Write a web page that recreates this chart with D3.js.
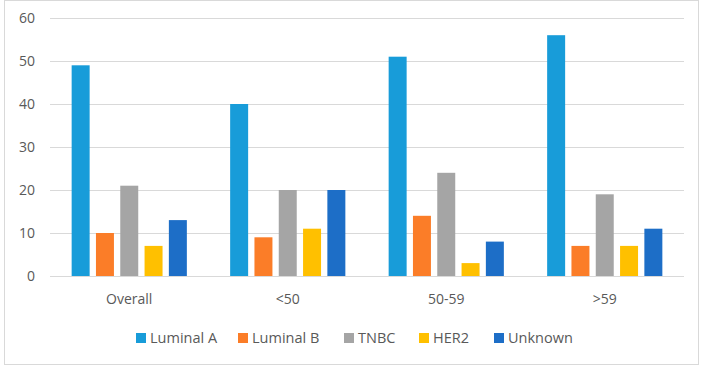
<!DOCTYPE html>
<html lang="en">
<head>
  <meta charset="UTF-8">
  <title>Subtypes by age</title>
  <style>
    body { margin: 0; background: #fff; }
    text { font-family: "Open Sans", "DejaVu Sans", sans-serif; fill: #595959; }
  </style>
</head>
<body>
  <script src="https://d3js.org/d3.v7.min.js"></script>
  <script>

    const categories = ['Overall', '<50', '50-59', '>59']
    const seriesNames = ['Luminal A', 'Luminal B', 'TNBC', 'HER2', 'Unknown']
    const luminalA = [49, 40, 51, 56]
    const luminalB = [10, 9, 14, 7]
    const tnbc = [21, 20, 24, 19]
    const her2 = [7, 11, 3, 7]
    const unknown = [13, 20, 8, 11]
    const yTicks = [0, 10, 20, 30, 40, 50, 60]
    const colors = ['#189cd9', '#fb7d28', '#a5a5a5', '#ffc000', '#1d6ec7']

    const seriesValues = [luminalA, luminalB, tnbc, her2, unknown]
    const rows = categories.map((c, i) => ({
      cat: c,
      vals: seriesNames.map((s, j) => ({ key: s, value: seriesValues[j][i], idx: j }))
    }))

    const width = 708, height = 370
    const plotLeft = 50, plotRight = 684, plotTop = 18, plotBottom = 276
    const groupW = 115.2

    const svg = d3.select('body')
      .append('svg')
      .attr('width', width)
      .attr('height', height)

    // chart border
    svg.append('rect')
      .attr('x', 4.5).attr('y', 0.5)
      .attr('width', 694).attr('height', 364)
      .attr('fill', '#fff')
      .attr('stroke', '#d9d9d9')

    const x0 = d3.scaleBand()
      .domain(categories)
      .range([plotLeft, plotRight])

    const x1 = d3.scaleBand()
      .domain(seriesNames)
      .range([0, groupW])
      .paddingInner(0.26)

    const y = d3.scaleLinear()
      .domain([0, 60])
      .range([plotBottom, plotTop])

    // gridlines
    svg.append('g')
      .selectAll('line')
      .data(yTicks)
      .join('line')
      .attr('x1', plotLeft).attr('x2', plotRight)
      .attr('y1', d => Math.round(y(d)) + 0.5)
      .attr('y2', d => Math.round(y(d)) + 0.5)
      .attr('stroke', '#d9d9d9')
      .attr('stroke-width', 1)

    // y labels
    svg.append('g')
      .selectAll('text')
      .data(yTicks)
      .join('text')
      .attr('x', 35)
      .attr('y', d => y(d))
      .attr('dy', '0.35em')
      .attr('text-anchor', 'end')
      .style('font-size', '14px')
      .text(d => d)

    // bars
    const groups = svg.append('g')
      .selectAll('g')
      .data(rows)
      .join('g')
      .attr('transform', d => `translate(${x0(d.cat) + (x0.bandwidth() - groupW) / 2}, 0)`)

    groups.selectAll('rect')
      .data(d => d.vals)
      .join('rect')
      .attr('x', d => x1(d.key))
      .attr('y', d => y(d.value))
      .attr('width', x1.bandwidth())
      .attr('height', d => plotBottom - y(d.value))
      .attr('fill', d => colors[d.idx])

    // category labels
    svg.append('g')
      .selectAll('text')
      .data(categories)
      .join('text')
      .attr('x', d => x0(d) + x0.bandwidth() / 2)
      .attr('y', 304)
      .attr('text-anchor', 'middle')
      .style('font-size', '14px')
      .text(d => d)

    // legend
    const legendX = [136, 238, 344, 419, 494]
    const legend = svg.append('g')
      .selectAll('g')
      .data(seriesNames)
      .join('g')
      .attr('transform', (d, i) => `translate(${legendX[i]}, 338)`)

    legend.append('rect')
      .attr('x', 0).attr('y', -5)
      .attr('width', 10).attr('height', 10)
      .attr('fill', (d, i) => colors[i])

    legend.append('text')
      .attr('x', 14)
      .attr('y', 0)
      .attr('dy', '0.35em')
      .style('font-size', '14.5px')
      .text(d => d)

  </script>
</body>
</html>
